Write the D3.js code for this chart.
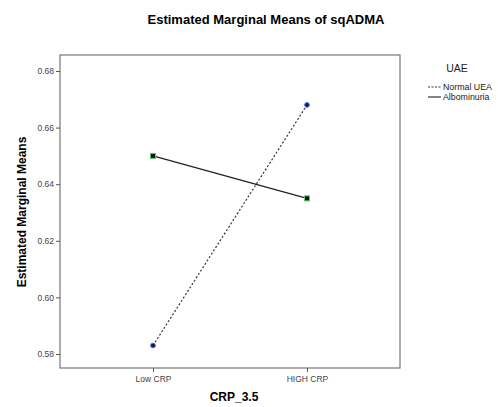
<!DOCTYPE html>
<html>
<head>
<meta charset="utf-8">
<script src="https://cdn.jsdelivr.net/npm/d3@7"></script>
<style>
  body { margin: 0; background: #fff; }
  svg { font-family: "Liberation Sans", Arial, sans-serif; }
</style>
</head>
<body>
<svg id="chart" width="498" height="407"></svg>
<script>
// data
var categories = ["Low CRP", "HIGH CRP"];
var seriesNames = ["Normal UEA", "Albominuria"];
var normalUEA = [0.583, 0.668];
var albominuria = [0.650, 0.635];
var yTicks = [0.58, 0.60, 0.62, 0.64, 0.66, 0.68];

var svg = d3.select("#chart");

// plot frame
var frame = {left: 60, right: 400, top: 55, bottom: 368};

var x = d3.scalePoint()
    .domain(categories)
    .range([frame.left, frame.right])
    .padding(0.604);

var y = d3.scaleLinear()
    .domain([0.58, 0.68])
    .range([354, 71]);

// title
svg.append("text")
    .attr("x", 266)
    .attr("y", 24)
    .attr("text-anchor", "middle")
    .attr("font-size", 13)
    .attr("font-weight", "bold")
    .text("Estimated Marginal Means of sqADMA");

// frame
svg.append("rect")
    .attr("x", frame.left)
    .attr("y", frame.top)
    .attr("width", frame.right - frame.left)
    .attr("height", frame.bottom - frame.top)
    .attr("fill", "none")
    .attr("stroke", "#777")
    .attr("stroke-width", 1.2);

// y axis
var yAxis = svg.append("g")
    .attr("transform", "translate(" + frame.left + ",0)")
    .call(d3.axisLeft(y).tickValues(yTicks).tickFormat(d3.format(".2f")).tickSize(4).tickPadding(2));
yAxis.select(".domain").remove();
yAxis.selectAll("line").attr("stroke", "#555");
yAxis.selectAll("text").attr("font-size", 8.5).attr("fill", "#444").attr("font-family", "Liberation Sans, Arial, sans-serif");

// x axis
var xAxis = svg.append("g")
    .attr("transform", "translate(0," + frame.bottom + ")")
    .call(d3.axisBottom(x).tickSize(4).tickPadding(4));
xAxis.select(".domain").remove();
xAxis.selectAll("line").attr("stroke", "#555");
xAxis.selectAll("text").attr("font-size", 8.5).attr("fill", "#444").attr("font-family", "Liberation Sans, Arial, sans-serif");

// axis titles
svg.append("text")
    .attr("x", 234)
    .attr("y", 401)
    .attr("text-anchor", "middle")
    .attr("font-size", 12)
    .attr("font-weight", "bold")
    .text("CRP_3.5");

svg.append("text")
    .attr("transform", "translate(26,212) rotate(-90)")
    .attr("text-anchor", "middle")
    .attr("font-size", 12)
    .attr("font-weight", "bold")
    .text("Estimated Marginal Means");

// lines
var line = d3.line()
    .x(function(d, i) { return x(categories[i]); })
    .y(function(d) { return y(d); });

svg.append("path")
    .datum(normalUEA)
    .attr("d", line)
    .attr("fill", "none")
    .attr("stroke", "#333")
    .attr("stroke-width", 1.2)
    .attr("stroke-dasharray", "2,2");

svg.append("path")
    .datum(albominuria)
    .attr("d", line)
    .attr("fill", "none")
    .attr("stroke", "#222")
    .attr("stroke-width", 1.3);

// markers
svg.selectAll(".dot-normal")
    .data(normalUEA)
    .enter()
    .append("circle")
        .attr("class", "dot-normal")
        .attr("cx", function(d, i) { return x(categories[i]); })
        .attr("cy", function(d) { return y(d); })
        .attr("r", 2.4)
        .attr("fill", "#111a4a")
        .attr("stroke", "#5577ee")
        .attr("stroke-width", 1);

svg.selectAll(".sq-albo")
    .data(albominuria)
    .enter()
    .append("rect")
        .attr("class", "sq-albo")
        .attr("x", function(d, i) { return x(categories[i]) - 2.5; })
        .attr("y", function(d) { return y(d) - 2.5; })
        .attr("width", 5)
        .attr("height", 5)
        .attr("fill", "#111")
        .attr("stroke", "#55cc66")
        .attr("stroke-width", 1);

// legend
var legend = svg.append("g")
    .attr("transform", "translate(428,0)");

legend.append("text")
    .attr("x", 29)
    .attr("y", 72)
    .attr("text-anchor", "middle")
    .attr("font-size", 10.5)
    .attr("fill", "#222")
    .text("UAE");

seriesNames.forEach(function(name, index) {
    var ly = 87 + index * 10;
    legend.append("line")
        .attr("x1", 0)
        .attr("x2", 13)
        .attr("y1", ly)
        .attr("y2", ly)
        .attr("stroke", "#333")
        .attr("stroke-width", 1.2)
        .attr("stroke-dasharray", index === 0 ? "2,1.5" : null);
    legend.append("text")
        .attr("x", 15)
        .attr("y", ly + 3)
        .attr("font-size", 8.8)
        .attr("fill", "#222")
        .text(name);
});
</script>
</body>
</html>
